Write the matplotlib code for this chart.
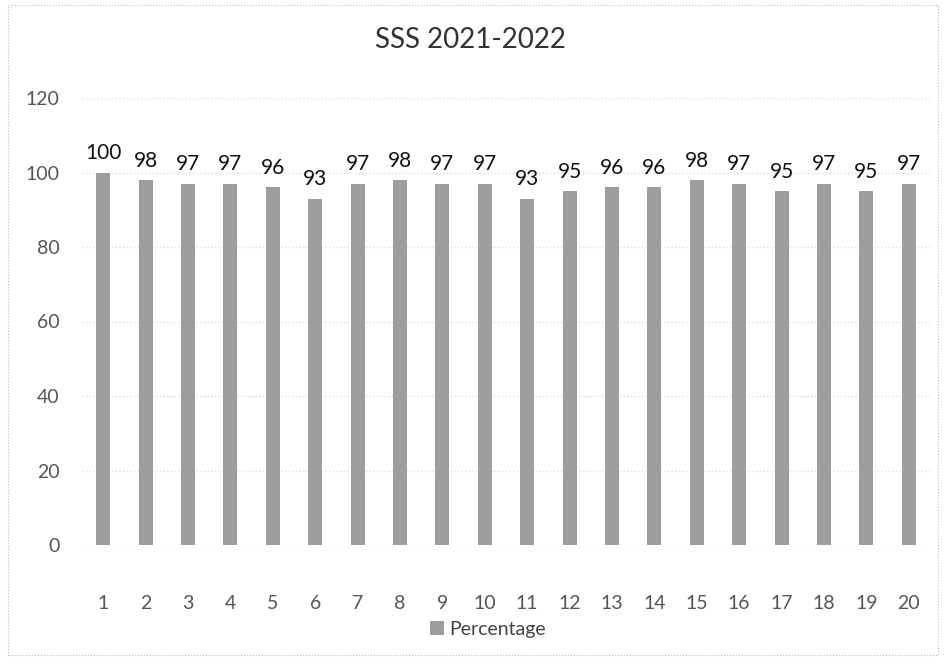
import matplotlib
matplotlib.use("Agg")
import matplotlib.pyplot as plt
from matplotlib.patches import Rectangle

plt.rcParams['font.family'] = ['Lato', 'DejaVu Sans']

students = list(range(1, 21))
percentage = [100, 98, 97, 97, 96, 93, 97, 98, 97, 97,
              93, 95, 96, 96, 98, 97, 95, 97, 95, 97]
y_ticks = [0, 20, 40, 60, 80, 100, 120]

fig = plt.figure(figsize=(9.49, 6.65), dpi=100)
ax = fig.add_axes([82 / 949, 1 - 545 / 665, 848 / 949, (545 - 98) / 665])

bars = ax.bar(students, percentage, width=0.33, color='#9e9e9e',
              label='Percentage', zorder=2)
for x, v in zip(students, percentage):
    ax.text(x, v + 2.5, str(v), ha='center', va='bottom', fontsize=15,
            color='#111111')

ax.set_xlim(0.5, 20.5)
ax.set_ylim(0, 120)
ax.set_yticks(y_ticks)
ax.set_xticks(students)
ax.tick_params(length=0, labelsize=14, colors='#555555')
ax.tick_params(axis='x', pad=36)
ax.tick_params(axis='y', pad=16)
ax.grid(axis='y', color='#dcdcdc', linestyle=':', linewidth=1, zorder=0)
for s in ax.spines.values():
    s.set_visible(False)

fig.text(470 / 949, 1 - 40 / 665, 'SSS 2021-2022', ha='center', va='center',
         fontsize=20, color='#333333')

fig.legend(handles=[bars], labels=['Percentage'], loc='center',
           bbox_to_anchor=(488 / 949, 1 - 629 / 665), frameon=False,
           fontsize=14, handlelength=0.7, handleheight=0.7,
           handletextpad=0.3, labelcolor='#444444')

# thin frame around the chart area
fig.patches.append(Rectangle((8 / 949, 10 / 665), 930 / 949, 650 / 665,
                             transform=fig.transFigure, fill=False,
                             edgecolor='#bbbbbb', linewidth=0.8,
                             linestyle=':'))

fig.savefig('out.png', dpi=100)
